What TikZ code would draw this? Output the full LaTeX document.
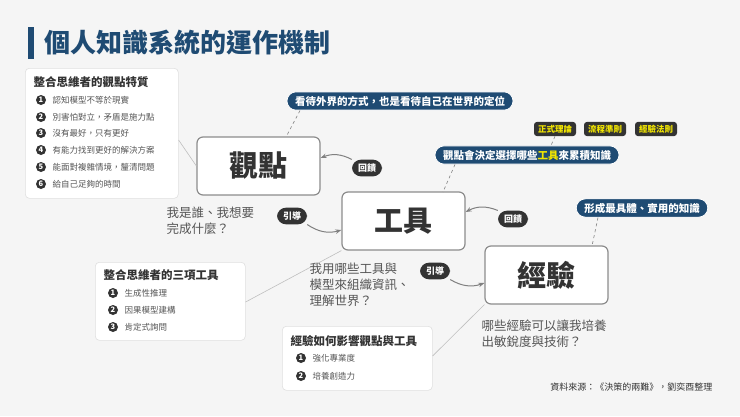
\documentclass[tikz,border=0pt]{standalone}
\usepackage{fontspec}
\setmainfont{Noto Sans CJK TC}
\usetikzlibrary{arrows.meta}
\definecolor{navy}{HTML}{1F4B73}
\definecolor{dk}{HTML}{333333}
\definecolor{txt}{HTML}{555555}
\definecolor{ylw}{HTML}{F2E600}
\tikzset{
 x=1pt,y=-1pt,
 card/.style={draw=black!12,fill=white,rounded corners=4pt,line width=0.6pt},
 bigbox/.style={draw=black!45,fill=white,rounded corners=6pt,line width=1.2pt,minimum width=123pt,minimum height=58pt,font=\bfseries\fontsize{29}{30}\selectfont,text=dk},
 pill/.style={fill=dk,text=white,rounded corners=9pt,font=\bfseries\fontsize{9}{10}\selectfont,inner xsep=6pt,inner ysep=4pt},
 bpill/.style={fill=navy,text=white,rounded corners=9pt,font=\bfseries\fontsize{10.5}{12}\selectfont,inner xsep=8pt,inner ysep=4pt,draw=white,line width=0.8pt},
 tag/.style={fill=dk,text=ylw,rounded corners=3pt,font=\bfseries\fontsize{8.5}{10}\selectfont,inner xsep=4pt,inner ysep=3pt},
 num/.style={circle,fill=dk,text=white,inner sep=0pt,minimum size=10pt,font=\bfseries\fontsize{7.5}{8}\selectfont},
 item/.style={anchor=west,text=txt,font=\fontsize{8.5}{9}\selectfont},
 ctitle/.style={anchor=west,text=dk,font=\bfseries\fontsize{11.5}{12}\selectfont},
 q/.style={text=txt,align=left,anchor=north west,font=\fontsize{12.5}{16}\selectfont},
 conn/.style={draw=black!50,line width=1pt,-{Stealth[length=6pt]}},
 dline/.style={draw=black!50,dashed,line width=0.6pt},
 thin/.style={draw=black!25,line width=0.6pt}
}
\begin{document}
\begin{tikzpicture}
\useasboundingbox (0,0) rectangle (740,416);
\fill[black!4] (0,0) rectangle (740,416);
\fill[navy] (28,27) rectangle (34,59);
\node[anchor=west,text=navy,font=\bfseries\fontsize{26}{28}\selectfont] (title) at (41,43) {個人知識系統的運作機制};
% card 1
\node[card,minimum width=153pt,minimum height=130pt,anchor=north west] (c1) at (25,68) {};
\node[ctitle] (c1t) at (30,82) {整合思維者的觀點特質};
\foreach \i/\t [count=\k] in {100/認知模型不等於現實,117/別害怕對立，矛盾是施力點,133/沒有最好，只有更好,150/有能力找到更好的解決方案,167/能面對複雜情境，釐清問題,184/給自己足夠的時間}{
 \node[num] (n1\k) at (41,\i) {\k};
 \node[item] (t1\k) at (49,\i) {\t};
}
% card 2
\node[card,minimum width=150pt,minimum height=78pt,anchor=north west] (c2) at (95,262) {};
\node[ctitle] (c2t) at (100,275) {整合思維者的三項工具};
\foreach \i/\t [count=\k] in {293/生成性推理,310/因果模型建構,327/肯定式詢問}{
 \node[num] (n2\k) at (113,\i) {\k};
 \node[item] (t2\k) at (121,\i) {\t};
}
% card 3
\node[card,minimum width=150pt,minimum height=64pt,anchor=north west] (c3) at (282,326) {};
\node[ctitle] (c3t) at (287,341) {經驗如何影響觀點與工具};
\foreach \i/\t [count=\k] in {358/強化專業度,376/培養創造力}{
 \node[num] (n3\k) at (301,\i) {\k};
 \node[item] (t3\k) at (309,\i) {\t};
}
% big boxes
\node[bigbox] (gd) at (258.5,166) {觀點};
\node[bigbox] (gj) at (403.5,221) {工具};
\node[bigbox] (jy) at (546.5,275) {經驗};
% thin links
\draw[thin] (c1.east |- 0,140) -- (gd.west);
\draw[thin] (c2.east |- 0,302) -- (gj.south west);
\draw[thin] (c3.east |- 0,356) -- (jy.south west);
% questions
\node[q] (q1) at (163,203) {我是誰、我想要\\完成什麼？};
\node[q] (q2) at (306,259) {我用哪些工具與\\模型來組織資訊、\\理解世界？};
\node[q] (q3) at (478,316) {哪些經驗可以讓我培養\\出敏銳度與技術？};
% pills
\node[pill] (f1) at (367,168) {回饋};
\node[pill] (y1) at (292,216) {引導};
\node[pill] (f2) at (513,219) {回饋};
\node[pill] (y2) at (435,271) {引導};
\draw[conn] (f1.north west) to[bend right=25] (gd.east |- 0,158);
\draw[conn] (y1.south east) to[bend right=25] (gj.west |- 0,230);
\draw[conn] (f2.north west) to[bend right=25] (gj.east |- 0,212);
\draw[conn] (y2.south east) to[bend right=25] (jy.west |- 0,283);
% blue pills
\node[bpill] (b1) at (400,101) {看待外界的方式，也是看待自己在世界的定位};
\node[bpill] (b2) at (527,155) {觀點會決定選擇哪些\textcolor{ylw}{工具}來累積知識};
\node[bpill] (b3) at (642,208) {形成最具體、實用的知識};
\node[tag] (g1) at (555,129) {正式理論};
\node[tag] (g2) at (605,129) {流程準則};
\node[tag] (g3) at (656,129) {經驗法則};
\draw[dline] (b1.south -| 300,0) -- (286,137);
\draw[dline] (b2.south -| 455,0) -- (443,192);
\draw[dline] (g1.south) -- (b2.north -| 551,0);
\draw[dline] (b3.south -| 598,0) -- (592,246);
\node[anchor=east,text=dk,font=\fontsize{9}{10}\selectfont] (src) at (716,387) {資料來源：《決策的兩難》，劉奕酉整理};
\end{tikzpicture}
\end{document}
